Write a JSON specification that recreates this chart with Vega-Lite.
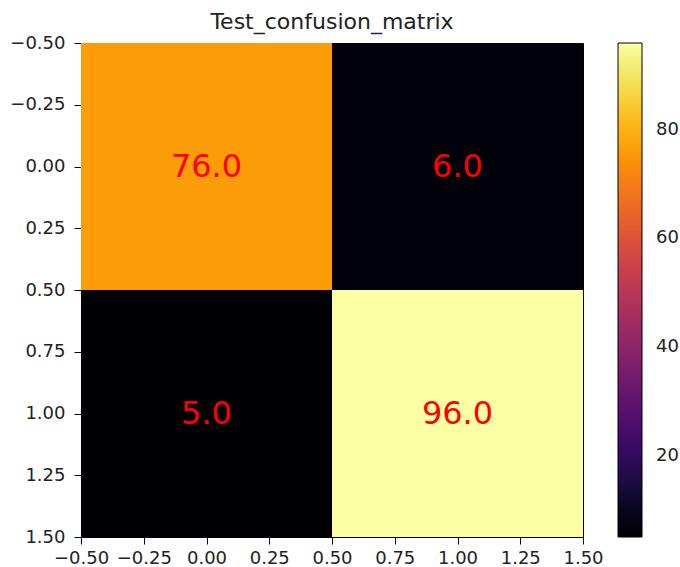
{
  "$schema": "https://vega.github.io/schema/vega-lite/v6.json",
  "width": 502,
  "height": 494,
  "autosize": "none",
  "padding": {"left": 81, "top": 43, "right": 97, "bottom": 30},
  "background": "white",
  "config": {
    "font": "DejaVu Sans",
    "view": {"stroke": "black", "strokeWidth": 1},
    "axis": {
      "grid": false,
      "domainColor": "black",
      "tickColor": "black",
      "tickSize": 7,
      "labelFontSize": 18,
      "labelColor": "#222",
      "title": null
    },
    "axisX": {"labelPadding": 5},
    "axisY": {"labelPadding": 9}
  },
  "title": {
    "text": "Test_confusion_matrix",
    "fontSize": 22,
    "fontWeight": "normal",
    "color": "#222",
    "frame": "group",
    "offset": 0,
    "anchor": "middle"
  },
  "data": {
    "values": [
      {"row": 0, "col": 0, "value": 76},
      {"row": 0, "col": 1, "value": 6},
      {"row": 1, "col": 0, "value": 5},
      {"row": 1, "col": 1, "value": 96}
    ]
  },
  "transform": [
    {"calculate": "datum.col - 0.5", "as": "x0"},
    {"calculate": "datum.col + 0.5", "as": "x1"},
    {"calculate": "datum.row - 0.5", "as": "y0"},
    {"calculate": "datum.row + 0.5", "as": "y1"}
  ],
  "layer": [
    {
      "mark": {"type": "rect", "strokeWidth": 0},
      "encoding": {
        "x": {
          "field": "x0", "type": "quantitative",
          "scale": {"domain": [-0.5, 1.5], "nice": false, "zero": false},
          "axis": {"values": [-0.5, -0.25, 0, 0.25, 0.5, 0.75, 1, 1.25, 1.5], "format": ".2f", "labelFlush": false, "labelOverlap": false}
        },
        "x2": {"field": "x1"},
        "y": {
          "field": "y0", "type": "quantitative",
          "scale": {"domain": [-0.5, 1.5], "nice": false, "zero": false, "reverse": true},
          "axis": {"values": [-0.5, -0.25, 0, 0.25, 0.5, 0.75, 1, 1.25, 1.5], "format": ".2f", "labelFlush": false, "labelOverlap": false}
        },
        "y2": {"field": "y1"},
        "color": {
          "field": "value", "type": "quantitative",
          "scale": {"scheme": "inferno", "domain": [5, 96]},
          "legend": {
            "orient": "none",
            "legendX": 537,
            "legendY": 0,
            "direction": "vertical",
            "gradientLength": 494,
            "gradientThickness": 24,
            "gradientStrokeColor": "black",
            "gradientStrokeWidth": 1,
            "values": [20, 40, 60, 80],
            "labelFontSize": 18,
            "labelColor": "#222",
            "labelOffset": 14,
            "labelOverlap": false,
            "title": null,
            "padding": 0
          }
        }
      }
    },
    {
      "mark": {"type": "text", "color": "red", "fontSize": 32, "baseline": "middle", "align": "center"},
      "encoding": {
        "x": {"field": "col", "type": "quantitative"},
        "y": {"field": "row", "type": "quantitative"},
        "text": {"field": "value", "type": "quantitative", "format": ".1f"}
      }
    }
  ]
}
